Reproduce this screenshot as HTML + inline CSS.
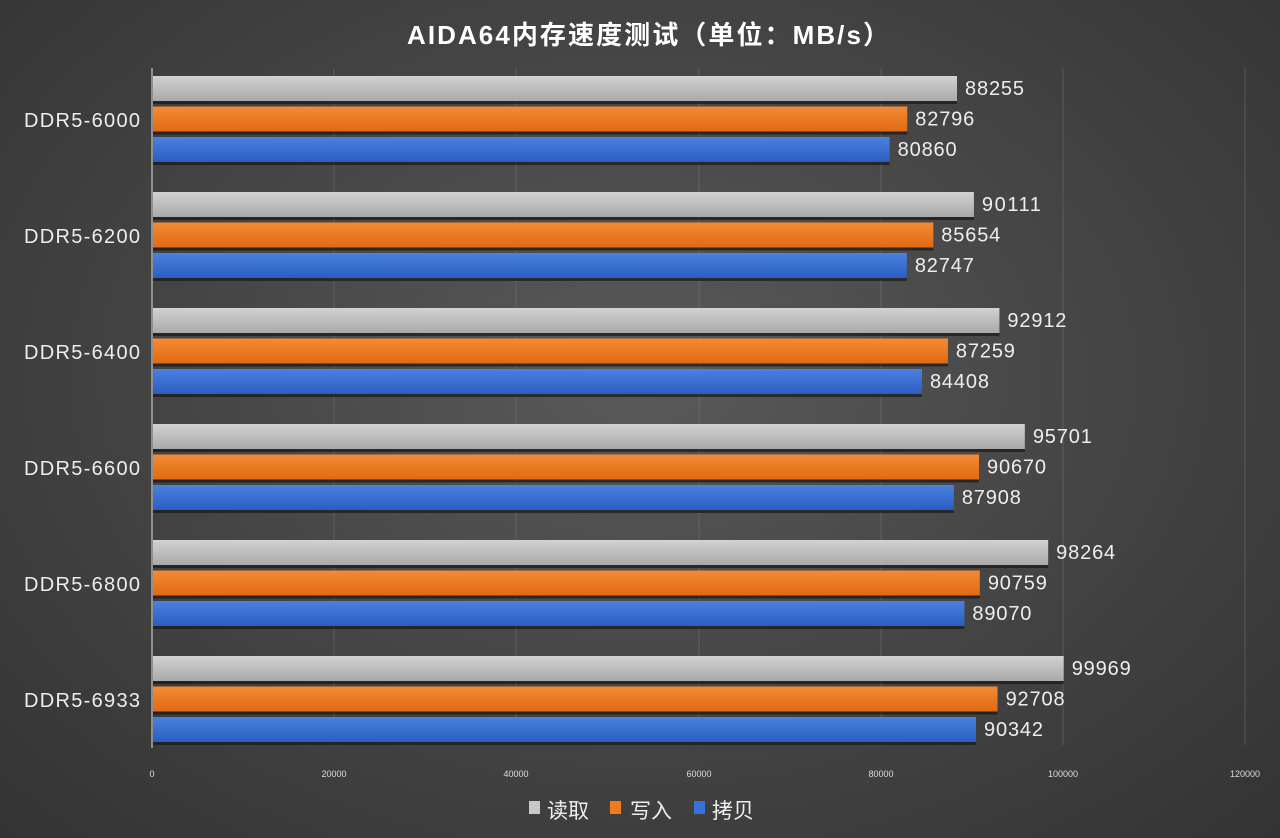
<!DOCTYPE html>
<html><head><meta charset="utf-8"><style>
html,body{margin:0;padding:0;width:1280px;height:838px;overflow:hidden}
body{background:radial-gradient(ellipse at 50% 45%,#5a5a5a 0%,#474747 45%,#333 100%);font-family:"Liberation Sans","Noto Sans CJK SC",sans-serif}
</style></head><body>
<svg width="1280" height="838" xmlns="http://www.w3.org/2000/svg" style="position:absolute;left:0;top:0">
<defs>
<linearGradient id="g" x1="0" y1="0" x2="0" y2="1"><stop offset="0" stop-color="#d2d2d2"/><stop offset="1" stop-color="#a9a9a9"/></linearGradient>
<linearGradient id="o" x1="0" y1="0" x2="0" y2="1"><stop offset="0" stop-color="#f58a35"/><stop offset="1" stop-color="#e06a12"/></linearGradient>
<linearGradient id="b" x1="0" y1="0" x2="0" y2="1"><stop offset="0" stop-color="#4a82e0"/><stop offset="1" stop-color="#2a5dc0"/></linearGradient>
</defs>
<text x="648" y="44" text-anchor="middle" fill="#fff" font-size="26" font-weight="bold" textLength="482">AIDA64内存速度测试（单位：MB/s）</text>
<g stroke="#777" stroke-width="1" opacity="0.5">
<line x1="334" y1="68" x2="334" y2="745"/><line x1="516" y1="68" x2="516" y2="745"/><line x1="699" y1="68" x2="699" y2="745"/><line x1="881" y1="68" x2="881" y2="745"/><line x1="1063" y1="68" x2="1063" y2="745"/><line x1="1245" y1="68" x2="1245" y2="745"/>
</g>
<line x1="152" y1="68" x2="152" y2="748" stroke="#aaa" stroke-width="1.5"/>
<g font-size="9" fill="#ddd" text-anchor="middle">
<text x="152" y="777">0</text><text x="334" y="777">20000</text><text x="516" y="777">40000</text><text x="699" y="777">60000</text><text x="881" y="777">80000</text><text x="1063" y="777">100000</text><text x="1245" y="777">120000</text>
</g>
<g id="bars" font-size="20" fill="#eee"></g>
<g font-size="21" fill="#eee">
<rect x="529" y="801" width="11" height="13" fill="#c8c8c8"/><text x="547" y="818">读取</text>
<rect x="610" y="801" width="11" height="13" fill="#f07a20"/><text x="630" y="818">写入</text>
<rect x="694" y="801" width="11" height="13" fill="#3a70d8"/><text x="712" y="818">拷贝</text>
</g>
</svg>
<script>
var d=[["DDR5-6000",88255,82796,80860],["DDR5-6200",90111,85654,82747],["DDR5-6400",92912,87259,84408],["DDR5-6600",95701,90670,87908],["DDR5-6800",98264,90759,89070],["DDR5-6933",99969,92708,90342]];
var s="",f=["url(#g)","url(#o)","url(#b)"];
d.forEach(function(r,i){var y0=76+116*i;
s+='<text x="24" y="'+(y0+51)+'" font-size="20" textLength="116">'+r[0]+'</text>';
for(var k=0;k<3;k++){var y=y0+30.5*k,w=r[k+1]*0.00911;
s+='<rect x="153" y="'+(y+25)+'" width="'+w+'" height="3" fill="#111" opacity="0.6"/>';
s+='<rect x="153" y="'+y+'" width="'+w+'" height="25" fill="'+f[k]+'"/>';
s+='<text x="'+(153+w+8)+'" y="'+(y+19)+'" textLength="59">'+r[k+1]+'</text>';}
});
document.getElementById("bars").innerHTML=s;
</script>
</body></html>
